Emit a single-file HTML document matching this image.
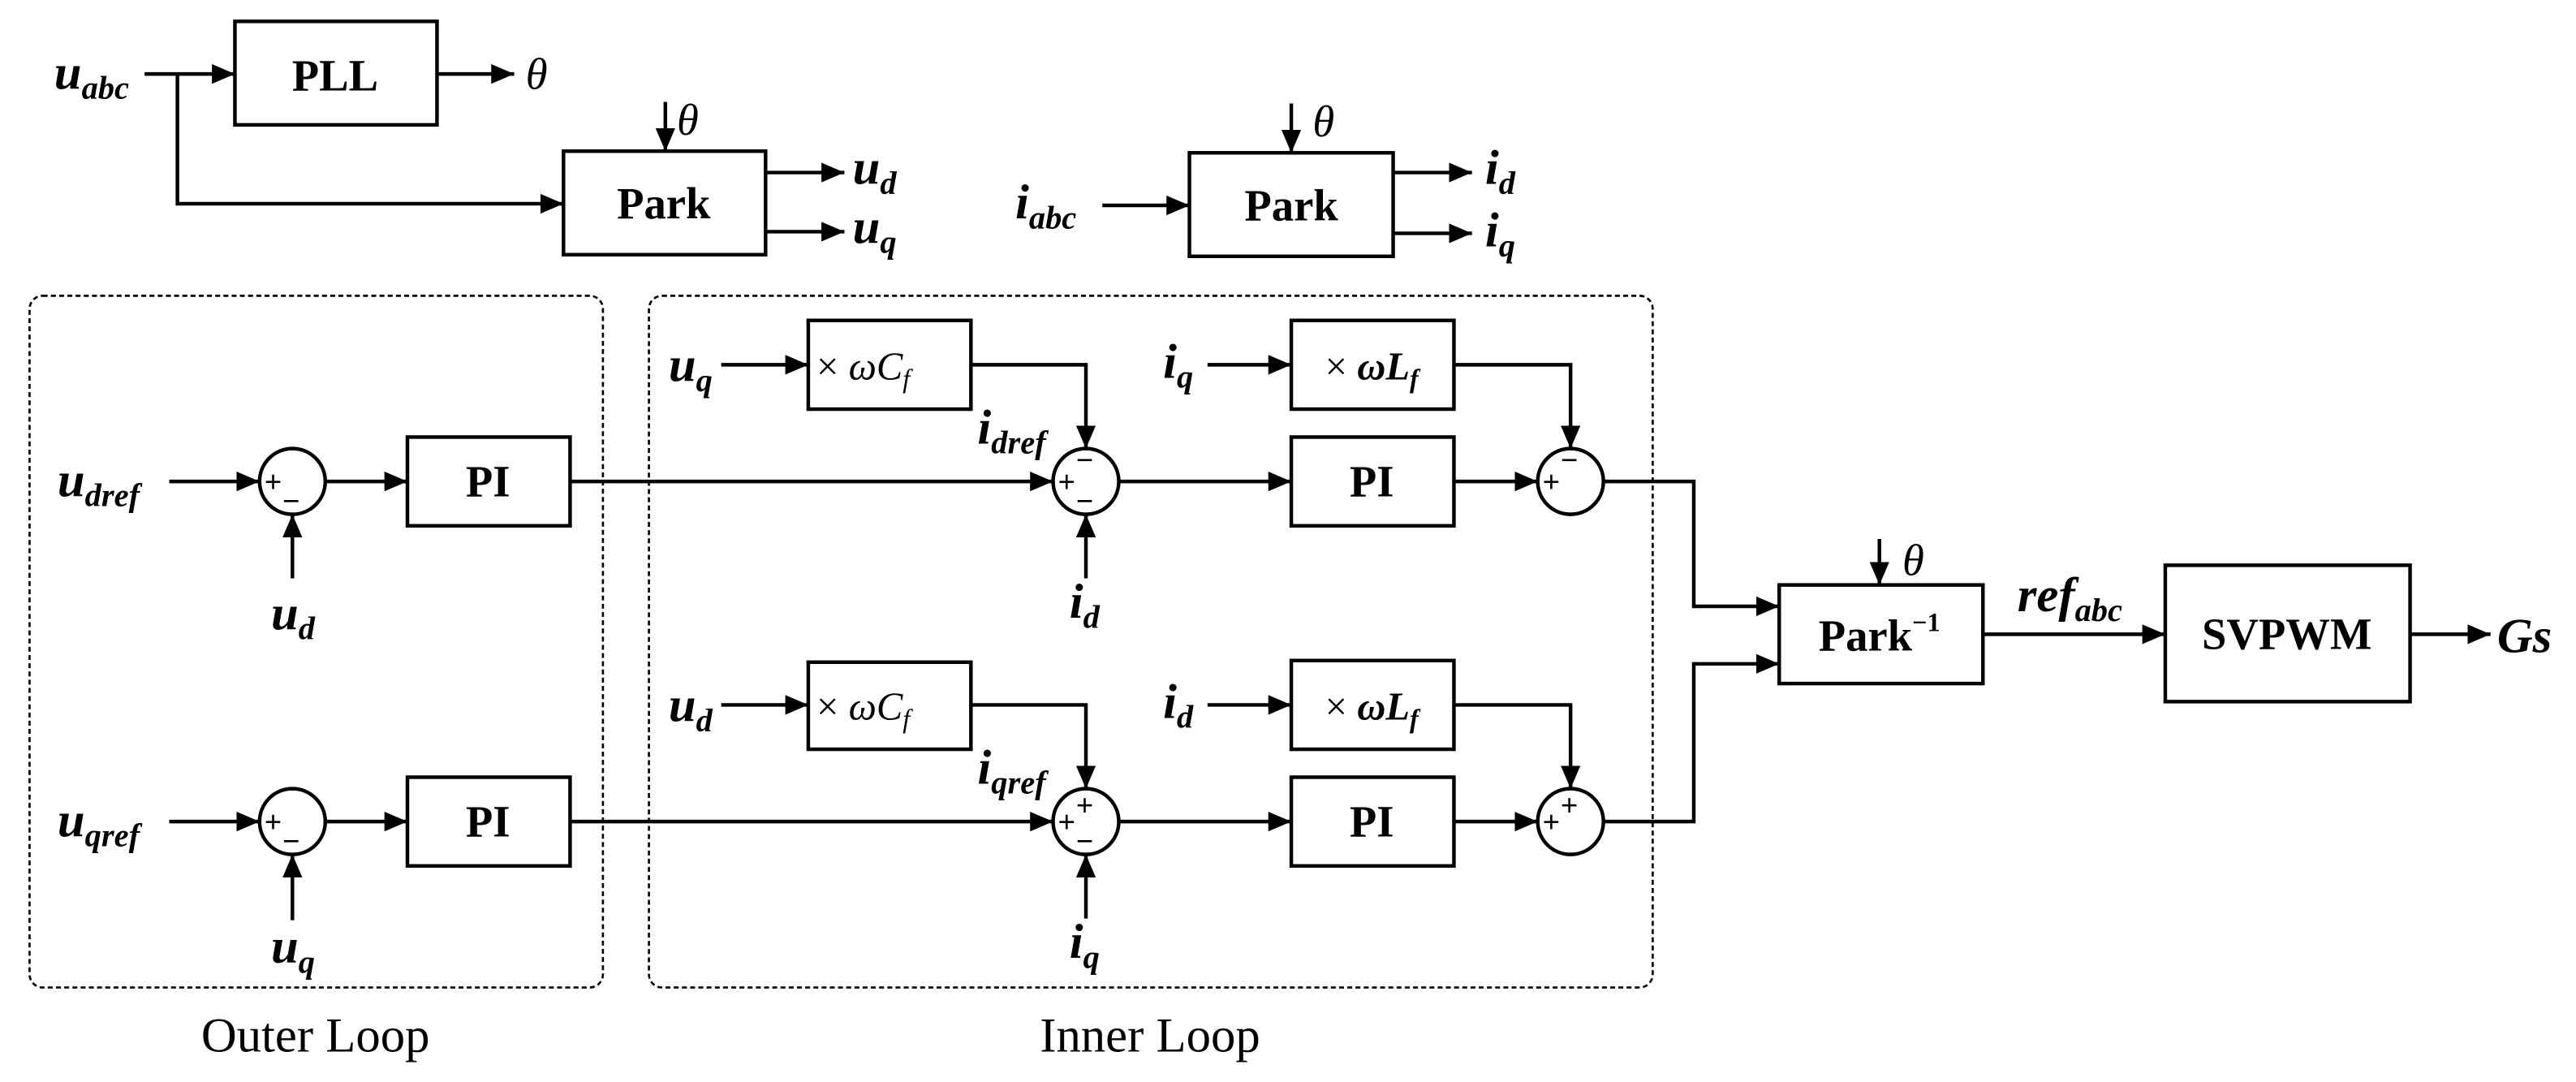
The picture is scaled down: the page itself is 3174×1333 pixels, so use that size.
<!DOCTYPE html>
<html><head><meta charset="utf-8"><style>
html,body{margin:0;padding:0;background:#fff;}
svg{display:block;}
text{font-family:"Liberation Serif","DejaVu Serif",serif;fill:#000;}
.v{font-weight:bold;font-style:italic;font-size:30px;}
.s{font-size:20px;}
.b{font-weight:bold;font-size:27px;}
.t{font-style:italic;font-size:27px;}
.sg{font-family:"Liberation Sans",sans-serif;font-size:18px;}
.lbl{font-size:30px;}
.m{font-size:24px;}
</style></head><body>
<svg width="3174" height="1333" viewBox="0 0 1568 658.5" preserveAspectRatio="none" xmlns="http://www.w3.org/2000/svg">
<defs>
<marker id="a" markerUnits="userSpaceOnUse" markerWidth="15" markerHeight="12" refX="14" refY="6" orient="auto">
<path d="M0,0 L14,6 L0,12 Z" fill="#000"/></marker>
</defs>
<g fill="none" stroke="#000" stroke-width="2.2">
<line x1="88" y1="45" x2="143" y2="45" marker-end="url(#a)"/>
<rect x="143" y="13" width="123" height="63"/>
<line x1="266" y1="45" x2="313" y2="45" marker-end="url(#a)"/>
<polyline points="108,45 108,124 343,124" marker-end="url(#a)"/>
<rect x="343" y="92" width="123" height="63"/>
<line x1="405" y1="62" x2="405" y2="92" marker-end="url(#a)"/>
<line x1="466" y1="105" x2="514" y2="105" marker-end="url(#a)"/>
<line x1="466" y1="141" x2="514" y2="141" marker-end="url(#a)"/>
<line x1="671" y1="125" x2="724" y2="125" marker-end="url(#a)"/>
<rect x="724" y="93" width="124" height="63"/>
<line x1="786" y1="63" x2="786" y2="93" marker-end="url(#a)"/>
<line x1="848" y1="105" x2="896" y2="105" marker-end="url(#a)"/>
<line x1="848" y1="142" x2="896" y2="142" marker-end="url(#a)"/>
<rect x="18" y="180" width="349" height="421" rx="8" stroke-width="1.3" stroke-dasharray="3 2"/>
<rect x="395" y="180" width="611" height="421" rx="8" stroke-width="1.3" stroke-dasharray="3 2"/>
<line x1="103" y1="293" x2="158" y2="293" marker-end="url(#a)"/>
<circle cx="178" cy="293" r="20"/>
<line x1="178" y1="352" x2="178" y2="313" marker-end="url(#a)"/>
<line x1="198" y1="293" x2="248" y2="293" marker-end="url(#a)"/>
<rect x="248" y="266" width="99" height="54"/>
<line x1="347" y1="293" x2="641" y2="293" marker-end="url(#a)"/>
<line x1="439" y1="222" x2="492" y2="222" marker-end="url(#a)"/>
<rect x="492" y="195" width="99" height="54"/>
<polyline points="591,222 661,222 661,273" marker-end="url(#a)"/>
<circle cx="661" cy="293" r="20"/>
<line x1="661" y1="352" x2="661" y2="313" marker-end="url(#a)"/>
<line x1="681" y1="293" x2="786" y2="293" marker-end="url(#a)"/>
<rect x="786" y="266" width="99" height="54"/>
<line x1="735" y1="222" x2="786" y2="222" marker-end="url(#a)"/>
<rect x="786" y="195" width="99" height="54"/>
<polyline points="885,222 956,222 956,273" marker-end="url(#a)"/>
<line x1="885" y1="293" x2="936" y2="293" marker-end="url(#a)"/>
<circle cx="956" cy="293" r="20"/>
<polyline points="976,293 1031,293 1031,369 1083,369" marker-end="url(#a)"/>
<line x1="103" y1="500" x2="158" y2="500" marker-end="url(#a)"/>
<circle cx="178" cy="500" r="20"/>
<line x1="178" y1="560" x2="178" y2="520" marker-end="url(#a)"/>
<line x1="198" y1="500" x2="248" y2="500" marker-end="url(#a)"/>
<rect x="248" y="473" width="99" height="54"/>
<line x1="347" y1="500" x2="641" y2="500" marker-end="url(#a)"/>
<line x1="439" y1="429" x2="492" y2="429" marker-end="url(#a)"/>
<rect x="492" y="403" width="99" height="53"/>
<polyline points="591,429 661,429 661,480" marker-end="url(#a)"/>
<circle cx="661" cy="500" r="20"/>
<line x1="661" y1="559" x2="661" y2="520" marker-end="url(#a)"/>
<line x1="681" y1="500" x2="786" y2="500" marker-end="url(#a)"/>
<rect x="786" y="473" width="99" height="54"/>
<line x1="735" y1="429" x2="786" y2="429" marker-end="url(#a)"/>
<rect x="786" y="402" width="99" height="54"/>
<polyline points="885,429 956,429 956,480" marker-end="url(#a)"/>
<line x1="885" y1="500" x2="936" y2="500" marker-end="url(#a)"/>
<circle cx="956" cy="500" r="20"/>
<polyline points="976,500 1031,500 1031,404 1083,404" marker-end="url(#a)"/>
<rect x="1083" y="356" width="124" height="60"/>
<line x1="1144" y1="328" x2="1144" y2="356" marker-end="url(#a)"/>
<line x1="1207" y1="386" x2="1318" y2="386" marker-end="url(#a)"/>
<rect x="1318" y="344" width="149" height="83"/>
<line x1="1467" y1="386" x2="1516" y2="386" marker-end="url(#a)"/>
</g>
<text x="33" y="54" class="v">u<tspan class="s" dy="6">abc</tspan></text>
<text x="204" y="55" class="b" text-anchor="middle">PLL</text>
<text x="320" y="54" class="t">θ</text>
<text x="404" y="133" class="b" text-anchor="middle">Park</text>
<text x="412" y="82" class="t">θ</text>
<text x="519" y="112" class="v">u<tspan class="s" dy="6">d</tspan></text>
<text x="519" y="148" class="v">u<tspan class="s" dy="6">q</tspan></text>
<text x="618" y="133" class="v">i<tspan class="s" dy="6">abc</tspan></text>
<text x="786" y="134" class="b" text-anchor="middle">Park</text>
<text x="799" y="83" class="t">θ</text>
<text x="904" y="112" class="v">i<tspan class="s" dy="6">d</tspan></text>
<text x="904" y="150" class="v">i<tspan class="s" dy="6">q</tspan></text>

<text x="35" y="302" class="v">u<tspan class="s" dy="6">dref</tspan></text>
<text x="161" y="299" class="sg">+</text>
<text x="172" y="311" class="sg">−</text>
<text x="297" y="302" class="b" text-anchor="middle">PI</text>
<text x="165" y="383" class="v">u<tspan class="s" dy="6">d</tspan></text>
<text x="407" y="232" class="v">u<tspan class="s" dy="6">q</tspan></text>
<text x="497" y="231" class="m">× <tspan font-style="italic">ωC</tspan><tspan font-style="italic" font-size="16" dy="5">f</tspan></text>
<text x="595" y="270" class="v">i<tspan class="s" dy="6">dref</tspan></text>
<text x="644" y="299" class="sg">+</text>
<text x="655" y="286" class="sg">−</text>
<text x="655" y="311" class="sg">−</text>
<text x="651" y="376" class="v">i<tspan class="s" dy="6">d</tspan></text>
<text x="708" y="230" class="v">i<tspan class="s" dy="6">q</tspan></text>
<text x="835" y="231" class="m" text-anchor="middle">× <tspan font-weight="bold" font-style="italic">ωL</tspan><tspan font-weight="bold" font-style="italic" font-size="16" dy="5">f</tspan></text>
<text x="835" y="302" class="b" text-anchor="middle">PI</text>
<text x="939" y="299" class="sg">+</text>
<text x="950" y="286" class="sg">−</text>

<text x="35" y="509" class="v">u<tspan class="s" dy="6">qref</tspan></text>
<text x="161" y="506" class="sg">+</text>
<text x="172" y="518" class="sg">−</text>
<text x="297" y="509" class="b" text-anchor="middle">PI</text>
<text x="165" y="586" class="v">u<tspan class="s" dy="6">q</tspan></text>
<text x="407" y="439" class="v">u<tspan class="s" dy="6">d</tspan></text>
<text x="497" y="438" class="m">× <tspan font-style="italic">ωC</tspan><tspan font-style="italic" font-size="16" dy="5">f</tspan></text>
<text x="595" y="477" class="v">i<tspan class="s" dy="6">qref</tspan></text>
<text x="644" y="506" class="sg">+</text>
<text x="655" y="496" class="sg">+</text>
<text x="655" y="518" class="sg">−</text>
<text x="651" y="583" class="v">i<tspan class="s" dy="6">q</tspan></text>
<text x="708" y="437" class="v">i<tspan class="s" dy="6">d</tspan></text>
<text x="835" y="438" class="m" text-anchor="middle">× <tspan font-weight="bold" font-style="italic">ωL</tspan><tspan font-weight="bold" font-style="italic" font-size="16" dy="5">f</tspan></text>
<text x="835" y="509" class="b" text-anchor="middle">PI</text>
<text x="939" y="506" class="sg">+</text>
<text x="950" y="496" class="sg">+</text>

<text x="1144" y="396" class="b" text-anchor="middle">Park<tspan font-size="16" dy="-12">−1</tspan></text>
<text x="1158" y="350" class="t">θ</text>
<text x="1228" y="372" class="v">ref<tspan class="s" dy="6">abc</tspan></text>
<text x="1392" y="395" class="b" text-anchor="middle">SVPWM</text>
<text x="1520" y="397" class="v">Gs</text>

<text x="192" y="640" class="lbl" text-anchor="middle">Outer Loop</text>
<text x="700" y="640" class="lbl" text-anchor="middle">Inner Loop</text>
</svg>
</body></html>
